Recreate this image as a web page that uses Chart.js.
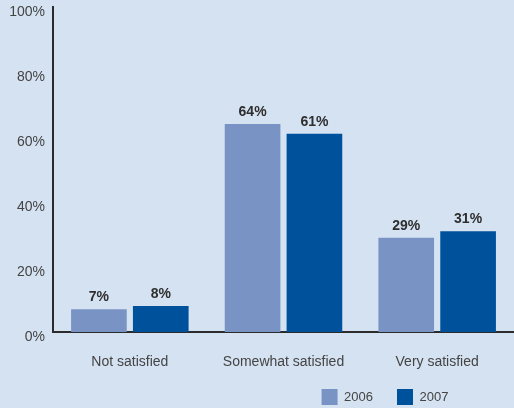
<!DOCTYPE html>
<html>
<head>
<meta charset="utf-8">
<script src="https://cdn.jsdelivr.net/npm/chart.js@4"></script>
<style>
  html, body { margin: 0; padding: 0; background: #d5e2f2; }
  #wrap { width: 514px; height: 408px; }
</style>
</head>
<body>
<div id="wrap"><canvas id="chart"></canvas></div>
<script>
// categories and values
const categories = ["Not satisfied", "Somewhat satisfied", "Very satisfied"];
const values2006 = [7, 64, 29];
const values2007 = [8, 61, 31];
const seriesNames = ["2006", "2007"];
const yTicks = [0, 20, 40, 60, 80, 100];

const textColor = "#444444";
const fontFamily = "'Liberation Sans', Arial, sans-serif";

// labels above every bar
const barLabels = {
  id: "barLabels",
  afterDatasetsDraw(chart) {
    const ctx = chart.ctx;
    ctx.save();
    ctx.font = "bold 14px " + fontFamily;
    ctx.fillStyle = "#2e2e2e";
    ctx.textAlign = "center";
    ctx.textBaseline = "bottom";
    chart.data.datasets.forEach((ds, i) => {
      chart.getDatasetMeta(i).data.forEach((bar, j) => {
        ctx.fillText(ds.data[j] + "%", bar.x, bar.y - 5);
      });
    });
    ctx.restore();
  },
};

// move the legend to the lower right, like the original
const legendShift = {
  id: "legendShift",
  afterLayout(chart) {
    const lg = chart.legend;
    lg.left = 256;
    lg.right = 514;
    lg.top = 365;
    lg.bottom = 408;
  },
};

new Chart(document.getElementById("chart"), {
  type: "bar",
  data: {
    labels: categories,
    datasets: [
      {
        label: seriesNames[0],
        data: values2006,
        backgroundColor: "#7a93c5",
        barPercentage: 0.9,
        categoryPercentage: 0.805,
      },
      {
        label: seriesNames[1],
        data: values2007,
        backgroundColor: "#00519b",
        barPercentage: 0.9,
        categoryPercentage: 0.805,
      },
    ],
  },
  options: {
    responsive: true,
    maintainAspectRatio: false,
    animation: false,
    layout: { padding: { top: 7, right: 0, bottom: 0, left: 0 } },
    scales: {
      x: {
        grid: { display: false, drawTicks: false },
        border: { color: "#2b2b2b", width: 2 },
        ticks: { color: textColor, font: { family: fontFamily, size: 14 }, padding: 22 },
        afterFit(scale) { scale.height = 42; },
      },
      y: {
        min: 0,
        max: 100,
        grid: { display: false, drawTicks: false },
        border: { color: "#2b2b2b", width: 2 },
        afterBuildTicks(scale) { scale.ticks = yTicks.map(v => ({ value: v })); },
        ticks: {
          color: textColor,
          font: { family: fontFamily, size: 14 },
          padding: 8,
          labelOffset: 5,
          callback: v => v + "%",
        },
        afterFit(scale) {
          scale.width = 53;
          scale.paddingTop = 0;
          scale.paddingBottom = 0;
        },
      },
    },
    plugins: {
      legend: {
        position: "bottom",
        maxHeight: 34,
        labels: {
          color: textColor,
          font: { family: fontFamily, size: 13 },
          boxWidth: 16,
          boxHeight: 16,
          padding: 24,
        },
      },
      tooltip: { enabled: false },
    },
  },
  plugins: [barLabels, legendShift],
});
</script>
</body>
</html>
